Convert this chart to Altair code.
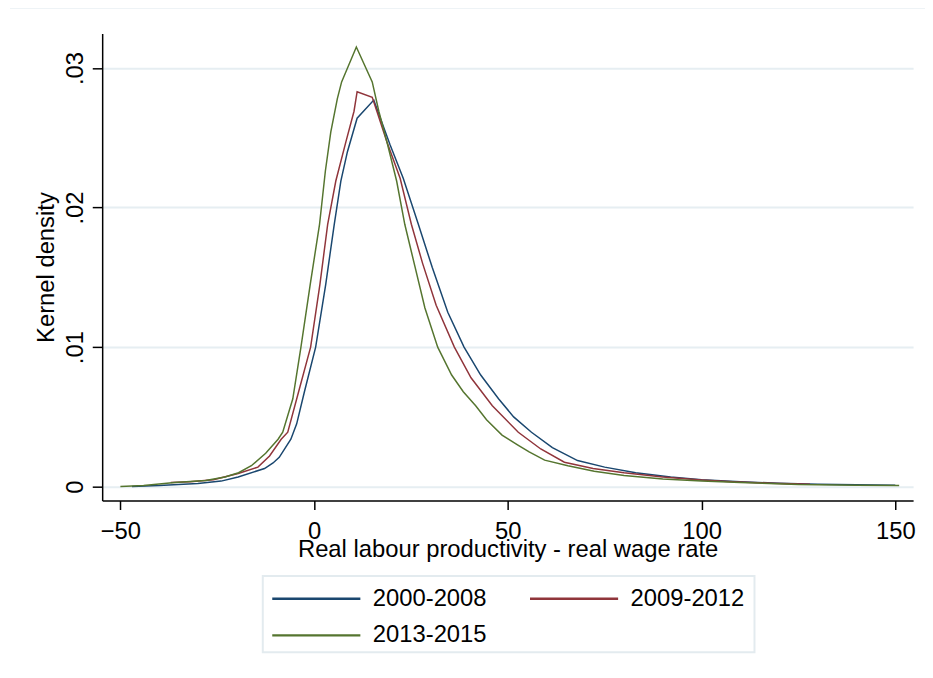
import altair as alt
import pandas as pd

# Series 2000-2008 (navy)
x_a = [-47, -40, -30, -24, -19.6, -12.8, -10.6, -9, -6, -4.5, -2.5, 0.4, 3.0, 5.2, 6.9, 8.6, 11.1, 15.4,
       17.1, 19.6, 23.0, 26.9, 30.5, 34.5, 38.7, 43.0, 47.6, 51.5, 56.1, 61.5, 68.0, 75, 83, 92, 100,
       110, 120, 130, 140, 150]
y_a = [0.00002, 0.00008, 0.00023, 0.0004, 0.0007, 0.0013, 0.0017, 0.0021, 0.0034, 0.0045, 0.0068, 0.0100,
       0.0145, 0.0188, 0.0219, 0.0240, 0.0264, 0.0277, 0.0264, 0.0245, 0.0221, 0.0188, 0.0157, 0.0125,
       0.0100, 0.0080, 0.0063, 0.0050, 0.0039, 0.0028, 0.00187, 0.0014, 0.0010, 0.0007, 0.0005, 0.00035,
       0.00025, 0.00018, 0.00013, 0.0001]

# Series 2009-2012 (maroon)
x_b = [-37, -32, -26, -19.6, -14.5, -11.5, -8.5, -6.8, -4.0, -0.9, 1.5, 3.5, 5.6, 8.2, 10.3, 11.1, 15.0,
       16.2, 18.8, 22.2, 25.1, 28.0, 31.5, 36.2, 40.5, 46.0, 52.7, 58.5, 64.6, 72, 80, 90, 100, 108, 118, 128]
y_b = [0.0003, 0.00035, 0.0005, 0.00095, 0.0014, 0.0022, 0.0034, 0.0039, 0.0068, 0.0100, 0.0145, 0.0188,
       0.0219, 0.0247, 0.0269, 0.0283, 0.0279, 0.0269, 0.0247, 0.0221, 0.0188, 0.0160, 0.0130, 0.0100,
       0.0078, 0.0058, 0.0039, 0.0027, 0.00175, 0.0013, 0.0010, 0.0007, 0.00048, 0.00035, 0.00025, 0.00018]

# Series 2013-2015 (green)
x_c = [-50, -44, -36, -28, -23, -19.5, -16.2, -12.5, -9.3, -8.1, -5.5, -3.4, -1.0, 1.4, 2.9, 4.3, 6.0, 7.1,
       10.9, 15.0, 16.7, 18.8, 21.3, 23.4, 26.0, 28.6, 31.9, 35.5, 38.5, 41.7, 44.5, 48.5, 52.5, 55.5,
       59.5, 65.5, 72.3, 80, 90, 100, 110, 125, 140, 151]
y_c = [0.00002, 0.00008, 0.0003, 0.00045, 0.0007, 0.0010, 0.0015, 0.0024, 0.0034, 0.0039, 0.0063, 0.0100,
       0.0145, 0.0188, 0.0226, 0.0254, 0.0278, 0.0290, 0.0315, 0.0290, 0.0269, 0.0247, 0.0219, 0.0188,
       0.0158, 0.0128, 0.0100, 0.0080, 0.0068, 0.0058, 0.0048, 0.0037, 0.0030, 0.0025, 0.0019, 0.0015,
       0.0011, 0.0008, 0.00055, 0.0004, 0.0003, 0.00015, 0.0001, 0.00008]

series_names = ["2000-2008", "2009-2012", "2013-2015"]
series_colors = ["#1a476f", "#90353b", "#55752f"]
x_ticks = [-50, 0, 50, 100, 150]
y_ticks = [0, 0.01, 0.02, 0.03]

rows = []
for name, xs, ys in zip(series_names, [x_a, x_b, x_c], [y_a, y_b, y_c]):
    for i, (xv, yv) in enumerate(zip(xs, ys)):
        rows.append({"x": xv, "y": yv, "series": name, "i": i})
df = pd.DataFrame(rows)

FONT = "Liberation Sans"
GRID = "#e6eef2"

lines = alt.Chart(df).mark_line(strokeWidth=1.5, clip=True).encode(
    x=alt.X("x:Q", scale=alt.Scale(domain=[-54.7, 154.6], nice=False, zero=False),
            axis=alt.Axis(values=x_ticks, title="Real labour productivity - real wage rate",
                          grid=True, gridColor=GRID, gridWidth=2, gridOpacity=0,
                          domainColor="black", domainWidth=1.5, tickColor="black", tickWidth=1.5,
                          tickSize=9, labelFontSize=24, labelColor="black", labelPadding=10,
                          labelFlush=False, titleFontSize=24, titleFontWeight="normal",
                          titleColor="black", titleY=56, titleBaseline="alphabetic")),
    y=alt.Y("y:Q", scale=alt.Scale(domain=[-0.000994, 0.03246], nice=False, zero=False),
            axis=alt.Axis(values=y_ticks, title="Kernel density",
                          labelExpr="datum.value == 0 ? '0' : '.0' + round(datum.value * 100)",
                          grid=True, gridColor=GRID, gridWidth=2,
                          domainColor="black", domainWidth=1.5, tickColor="black", tickWidth=1.5,
                          tickSize=10, labelFontSize=24, labelColor="black", labelPadding=10,
                          labelAngle=270, labelAlign="center", labelBaseline="alphabetic",
                          labelFlush=False, titleFontSize=24, titleFontWeight="normal",
                          titleColor="black", titleAngle=270, titleX=-49, titleY=235.5,
                          titleAlign="center", titleBaseline="alphabetic")),
    color=alt.Color("series:N", scale=alt.Scale(domain=series_names, range=series_colors),
                    legend=alt.Legend(orient="none", legendX=164, legendY=558, columns=2,
                                      direction="horizontal",
                                      title=None, symbolType="M-1,0H19", symbolSize=79,
                                      symbolStrokeWidth=2.5, labelFontSize=24, labelColor="black",
                                      labelOffset=85, columnPadding=36, rowPadding=13,
                                      padding=0, labelLimit=0)),
    order="i:Q",
)

top_rule = alt.Chart(pd.DataFrame({"a": [0]})).mark_rule(color="#e8eff3", strokeWidth=2).encode(
    x=alt.value(-93), x2=alt.value(830), y=alt.value(-26)
)

legend_box = alt.Chart(pd.DataFrame({"a": [0]})).mark_rect(
    fill="white", stroke="#e3ebef", strokeWidth=2
).encode(
    x=alt.value(162), x2=alt.value(658), y=alt.value(547), y2=alt.value(624)
)

chart = alt.layer(top_rule, legend_box, lines).properties(
    width=818, height=471,
    padding={"left": 95, "top": 23, "right": 12, "bottom": 160},
    autosize=alt.AutoSizeParams(type="none"),
).configure(font=FONT).configure_view(stroke=None)

chart.save("out.html", embed_options={"renderer": "svg", "actions": False})
